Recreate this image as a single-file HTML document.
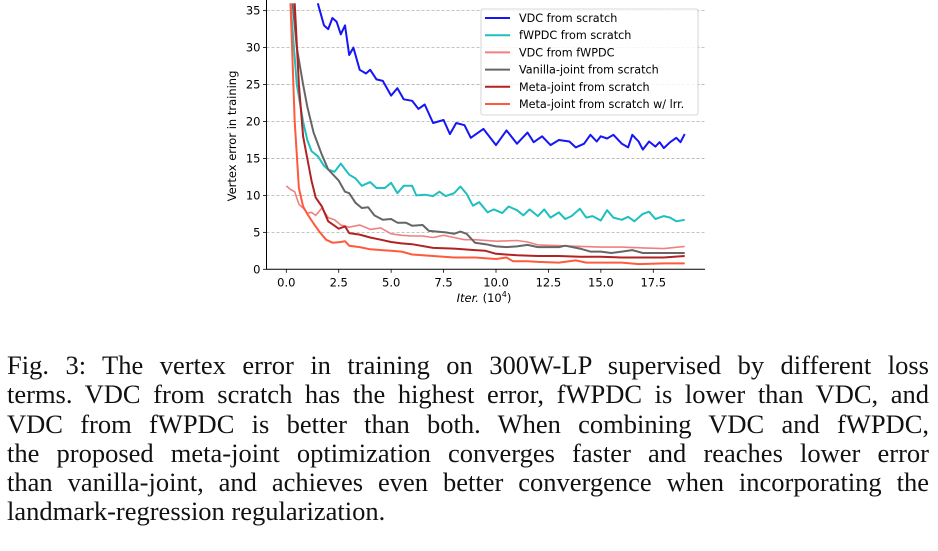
<!DOCTYPE html>
<html><head><meta charset="utf-8"><style>
body{margin:0;width:938px;height:551px;background:#fff;overflow:hidden;position:relative}
svg{position:absolute;left:0;top:0}
#cap{position:absolute;left:7px;top:351px;width:922px;font-family:"Liberation Serif",serif;font-size:26.5px;line-height:29.3px;color:#111}
#cap div{text-align:justify;text-align-last:justify;white-space:nowrap}
#cap div.last{text-align-last:left}
</style></head><body>
<svg id="chart" width="938" height="340" xmlns="http://www.w3.org/2000/svg" font-family="DejaVu Sans, Liberation Sans, sans-serif">
<defs><clipPath id="clip"><rect x="266" y="0" width="440" height="270"/></clipPath></defs>
<g id="grid"></g><g id="lines" clip-path="url(#clip)"></g><g id="axes"></g><g id="legend"></g>
</svg>
<div id="cap">
<div>Fig. 3: The vertex error in training on 300W-LP supervised by different loss</div>
<div>terms. VDC from scratch has the highest error, fWPDC is lower than VDC, and</div>
<div>VDC from fWPDC is better than both. When combining VDC and fWPDC,</div>
<div>the proposed meta-joint optimization converges faster and reaches lower error</div>
<div>than vanilla-joint, and achieves even better convergence when incorporating the</div>
<div class="last">landmark-regression regularization.</div>
</div>
<script>
const xTicks=[0,2.5,5,7.5,10,12.5,15,17.5];
const xTickLabels=["0.0","2.5","5.0","7.5","10.0","12.5","15.0","17.5"];
const yTicks=[0,5,10,15,20,25,30,35];
const seriesNames=["VDC from scratch","fWPDC from scratch","VDC from fWPDC","Vanilla-joint from scratch","Meta-joint from scratch","Meta-joint from scratch w/ lrr."];
const seriesColors=["#1515f5","#1fbfbf","#f08080","#666666","#b22222","#ff5a3c"];
const vdcX=[1.5,1.8,2,2.2,2.4,2.6,2.8,3,3.2,3.5,3.8,4,4.3,4.6,5,5.3,5.6,6,6.3,6.6,7,7.5,7.8,8.1,8.5,8.8,9.4,10,10.5,11,11.5,11.8,12.2,12.6,13,13.5,13.8,14.2,14.5,14.8,15,15.3,15.6,16,16.3,16.5,16.8,17,17.3,17.6,17.8,18,18.3,18.6,18.8,19];
const vdcY=[36,33,32.5,34,33.5,31.8,33,29,30,27,26.5,27,25.7,25.5,23.5,24.5,23,22.8,21.7,22.3,19.8,20.2,18.3,19.8,19.5,17.8,19,16.8,18.8,17,18.5,17.2,18,16.8,17.5,17.3,16.5,17,18.2,17.3,18,17.7,18.2,17,16.5,18.2,17.3,16.2,17.3,16.6,17.2,16.4,17.2,17.8,17.2,18.3];
const fwX=[0.2,0.5,0.8,1,1.2,1.5,1.8,2,2.3,2.6,3,3.3,3.6,4,4.3,4.7,5,5.3,5.6,6,6.2,6.6,7,7.3,7.6,8,8.3,8.6,8.9,9.2,9.6,9.9,10.3,10.6,11,11.3,11.6,12,12.3,12.6,13,13.3,13.6,14,14.3,14.6,15,15.3,15.6,16,16.3,16.6,17,17.3,17.6,18,18.3,18.6,19];
const fwY=[36,25,20,17.5,16,15.3,14,13.5,13.2,14.3,12.8,12.3,11.3,11.8,11,11,11.7,10.3,11.3,11.3,10,10.1,9.9,10.5,9.9,10.3,11.2,10.2,8.6,9.1,7.7,8.1,7.6,8.5,8,7.3,8.1,7.2,8.1,7,7.7,6.8,7.2,8.2,7,7.2,6.6,8,7,6.7,7.1,6.5,7.5,7.8,6.8,7.2,7,6.5,6.7];
const vfX=[0,0.2,0.4,0.6,0.8,1,1.2,1.4,1.7,2,2.3,2.6,3,3.5,4,4.5,5,5.5,6,6.5,7,7.5,8,8.5,9,10,11,11.5,12,13,14,15,16,17,18,19];
const vfY=[11.3,10.8,10.5,8.8,8.3,7.6,7.7,7.3,8.3,7,6.7,6,5.7,6,5.4,5.6,4.8,4.6,4.5,4.5,4.3,4.6,4.3,4,4,3.8,3.9,3.7,3.3,3.2,3.1,3,3,2.9,2.8,3.1];
const vjX=[0.3,0.5,0.8,1,1.3,1.7,2,2.5,2.8,3,3.3,3.6,3.9,4.2,4.6,5,5.3,5.7,6,6.5,6.8,7.2,7.6,8,8.3,8.6,9,9.5,10,10.5,11,11.5,12,12.5,13,13.3,14,14.5,15,15.5,16,16.5,17,18,19];
const vjY=[36,30,25,22,18.5,15.5,13.5,12,10.5,10.3,9,8.3,8.4,7.3,6.7,6.8,6.3,6.3,5.9,6,5.2,5.1,5,4.8,5.1,4.8,3.6,3.4,3.1,3,3.1,3.3,3,3,3,3.2,2.8,2.4,2.4,2.2,2.4,2.6,2.2,2.2,2.2];
const mjX=[0.4,0.6,0.8,1,1.2,1.4,1.7,2,2.3,2.5,2.8,3,3.5,4,4.5,5,5.5,6,7,8,9,9.5,10,11,12,13,14,15,16,17,18,19];
const mjY=[36,25,18,15,12,9.7,8.5,6.5,5.9,5.5,5.8,4.9,4.7,4.3,4,3.7,3.5,3.4,2.9,2.8,2.6,2.5,2.1,1.9,1.8,1.8,1.7,1.7,1.6,1.6,1.6,1.8];
const lrX=[0.2,0.4,0.6,0.8,1,1.3,1.6,1.9,2.2,2.6,2.8,3,3.5,4,5,5.5,6,7,8,9,10,10.5,10.8,11.5,12,13,13.8,14.3,15,16,16.8,18,19];
const lrY=[36,20,11,8.5,7.5,6.2,5,4,3.6,3.7,3.8,3.2,3,2.7,2.5,2.4,2,1.8,1.6,1.6,1.4,1.6,1.1,1.1,1,0.9,1.2,0.9,0.9,0.9,0.7,0.8,0.8];
const seriesX=[vdcX,fwX,vfX,vjX,mjX,lrX];
const seriesY=[vdcY,fwY,vfY,vjY,mjY,lrY];

const NS="http://www.w3.org/2000/svg";
const X0=266.5,X1=705,Y0=269.3;
function sx(v){return 286.3+v*20.97;}
function sy(v){return Y0-v*7.39;}
function mk(tag,attrs,parent){const e=document.createElementNS(NS,tag);for(const k in attrs)e.setAttribute(k,attrs[k]);parent.appendChild(e);return e;}
const grid=document.getElementById('grid'),lines=document.getElementById('lines'),axes=document.getElementById('axes'),legend=document.getElementById('legend');
yTicks.forEach((t,i)=>{
  if(t>0){const g=mk('line',{x1:X0,x2:X1,y1:sy(t),y2:sy(t),stroke:'#b0b0b0','stroke-width':0.8,'stroke-dasharray':'3,2'},grid);
  
  }
  const tk=mk('line',{x1:X0-3.5,x2:X0,y1:sy(t),y2:sy(t),stroke:'#000','stroke-width':0.8},axes);
  
  
  const tl=mk('text',{x:X0-6,y:sy(t)+4,'text-anchor':'end','font-size':11.5,fill:'#000'},axes);
  tl.textContent=String(t);
  
  
});
xTicks.forEach((t,i)=>{
  const tk=mk('line',{x1:sx(t),x2:sx(t),y1:Y0,y2:Y0+3.5,stroke:'#000','stroke-width':0.8},axes);
  
  
  const tl=mk('text',{x:sx(t),y:Y0+17,'text-anchor':'middle','font-size':11.5,fill:'#000'},axes);
  tl.textContent=xTickLabels[i];
  
  
});
const sp1=mk('line',{x1:X0,x2:X0,y1:0,y2:Y0,stroke:'#000','stroke-width':1},axes);


const sp2=mk('line',{x1:X0,x2:X1,y1:Y0,y2:Y0,stroke:'#000','stroke-width':1},axes);


const xt=mk('text',{x:484,y:302,'text-anchor':'middle','font-size':11.5,fill:'#000'},axes);
xt.innerHTML='<tspan font-style="italic">Iter.</tspan> (10<tspan font-size="8" dy="-5">4</tspan><tspan dy="5">)</tspan>';


const yt=mk('text',{x:0,y:0,'text-anchor':'middle','font-size':11.5,fill:'#000',transform:'translate(236,136) rotate(-90)'},axes);
yt.textContent='Vertex error in training';


seriesX.forEach((xs,s)=>{
  const d=xs.map((x,i)=>(i?'L':'M')+sx(x).toFixed(1)+','+sy(seriesY[s][i]).toFixed(1)).join('');
  const p=mk('path',{d:d,fill:'none',stroke:seriesColors[s],'stroke-width':s==2?1.6:2,'stroke-linejoin':'round'},lines);
  
  
});
const lb=mk('rect',{x:481,y:9,width:217,height:106,rx:2,fill:'#fff','fill-opacity':0.85,stroke:'#ccc','stroke-width':0.8},legend);


seriesNames.forEach((n,i)=>{
  const y=18+i*17.2;
  const l=mk('line',{x1:485,x2:510,y1:y,y2:y,stroke:seriesColors[i],'stroke-width':2},legend);
  
  
  const t=mk('text',{x:519,y:y+4,'font-size':11.2,fill:'#000'},legend);
  t.textContent=n;
  
  
});
</script>
</body></html>
